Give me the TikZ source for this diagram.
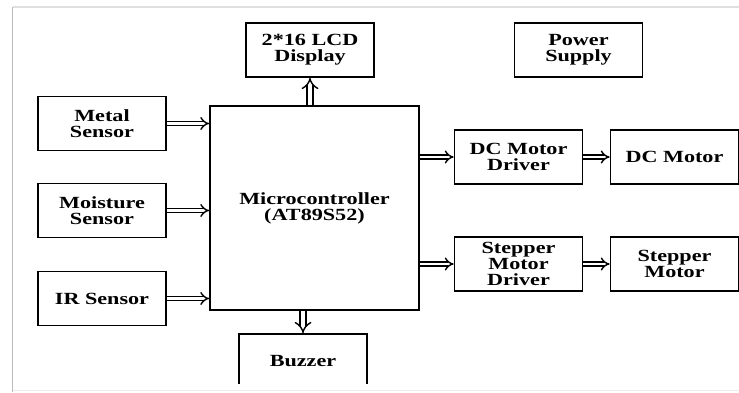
\documentclass[tikz,border=0pt]{standalone}
\usepackage{fontspec}
\setmainfont[FakeStretch=1.3]{Liberation Serif}
\usetikzlibrary{arrows.meta}
\begin{document}
\begin{tikzpicture}[x=.02cm,y=-.02cm,
  blk/.style={draw,line width=1pt,minimum width=2.56cm,minimum height=1.08cm,
    align=center,inner sep=1pt,font=\bfseries\fontsize{9.7}{9.2}\selectfont},
  dar/.style={double,double distance=1.7pt,line width=.8pt,-{Implies}},
  darw/.style={double,double distance=2.5pt,line width=.8pt,-{Implies}}]
  \useasboundingbox (0,0) rectangle (739,392);
  \draw[gray!55,line width=1pt] (12.5,7)--(12.5,392);
  \draw[gray!25,line width=.8pt] (12.5,7)--(739,7);
  \draw[gray!15,line width=.8pt] (12.5,390.5)--(739,390.5);
  \node[blk] (lcd) at (310,50) {2*16 LCD\\Display};
  \node[blk] (pwr) at (578.5,50) {Power\\Supply};
  \node[blk] (metal) at (102,123.5) {Metal\\Sensor};
  \node[blk] (moist) at (102,210.5) {Moisture\\Sensor};
  \node[blk] (ir) at (102,298.5) {IR Sensor};
  \node[blk,minimum width=4.18cm,minimum height=4.08cm] (mcu) at (314.5,208)
    {Microcontroller\\(AT89S52)};
  \node[blk] (dcdrv) at (518.5,157) {DC Motor\\Driver};
  \node[blk] (dcm) at (674.5,157) {DC Motor};
  \node[blk] (stdrv) at (518.5,264) {Stepper\\Motor\\Driver};
  \node[blk] (stm) at (674.5,264) {Stepper\\Motor};
  \begin{scope}
    \clip (0,0) rectangle (739,383);
    \node[blk] (bz) at (303,361) {Buzzer};
  \end{scope}
  \foreach \s in {metal,moist,ir} \draw[dar] (\s.east) -- (\s.east -| mcu.west);
  \foreach \d/\m in {dcdrv/dcm,stdrv/stm} {
    \draw[dar] (mcu.east |- \d.west) -- (\d.west);
    \draw[dar] (\d) -- (\m);
  }
  \draw[darw] (mcu.north -| lcd.south) -- (lcd.south);
  \draw[darw] (mcu.south -| bz.north) -- (bz.north);
\end{tikzpicture}
\end{document}
